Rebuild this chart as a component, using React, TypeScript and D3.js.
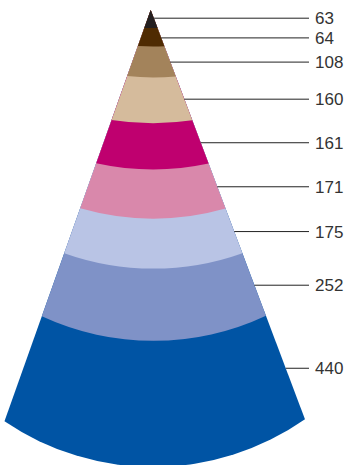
import React from "react";
import * as d3 from "d3";

// Slice values, top to bottom
const values: number[] = [63, 64, 108, 160, 161, 171, 175, 252, 440];
const labels: string[] = ["63", "64", "108", "160", "161", "171", "175", "252", "440"];
const colors: string[] = [
  "#231f20",
  "#4f2b02",
  "#a3835b",
  "#d5bb9c",
  "#bf006f",
  "#d988ab",
  "#b9c4e5",
  "#7f92c7",
  "#0054a4",
];

const W = 346;
const H = 465;

// cone geometry
const apex = { x: 150.7, y: 10 };
const baseY = 467; // lowest point of the cone's bottom arc
const slopeL = 0.3555; // horizontal run per px of depth, left side
const slopeR = 0.377; // right side
const arcR = 265; // radius of every slice boundary arc
const arcCx = 153.2; // x of the lowest point of each boundary arc
const labelLineEnd = 309;
const labelX = 315;
const minLabelGap = 19.7;

export default function App() {
  const cum: number[] = Array.from(d3.cumsum(values));
  const total = cum[cum.length - 1];
  // cumulative value -> y of the lowest point of the boundary arc
  const depth = d3.scaleLinear().domain([0, total]).range([apex.y, baseY]);

  // where the arc whose lowest point is at yc meets a cone side
  const meet = (yc: number, side: 1 | -1) => {
    const k = side === 1 ? slopeR : slopeL;
    const dx0 = apex.x - arcCx;
    const dy0 = apex.y - yc + arcR;
    const a = k * k + 1;
    const b = 2 * (dx0 * k * side + dy0);
    const c = dx0 * dx0 + dy0 * dy0 - arcR * arcR;
    const t = (-b + Math.sqrt(b * b - 4 * a * c)) / (2 * a);
    return { x: apex.x + side * k * t, y: apex.y + t };
  };

  const bounds = cum.map((v) => {
    const yc = depth(v);
    return { right: meet(yc, 1), left: meet(yc, -1) };
  });

  // each slice is drawn as the cone from the apex down to its lower arc,
  // largest first so the smaller ones sit on top
  const shapes = values.map((_, i) => {
    const p = d3.path();
    const { left, right } = bounds[i];
    p.moveTo(apex.x, apex.y);
    p.lineTo(right.x, right.y);
    const ctr = { x: arcCx, y: depth(cum[i]) - arcR };
    const a0 = Math.atan2(right.y - ctr.y, right.x - ctr.x);
    const a1 = Math.atan2(left.y - ctr.y, left.x - ctr.x);
    p.arc(ctr.x, ctr.y, arcR, a0, a1, false);
    p.closePath();
    return { d: p.toString(), color: colors[i] };
  });

  // label anchor: middle of the slice along its right edge
  const labelY = values.map((_, i) => {
    const top = i === 0 ? apex.y : bounds[i - 1].right.y;
    return (top + bounds[i].right.y) / 2 + 0.8;
  });
  for (let i = labelY.length - 2; i >= 0; i--) {
    labelY[i] = Math.min(labelY[i], labelY[i + 1] - minLabelGap);
  }

  return (
    <svg
      width={W}
      height={H}
      style={{ position: "absolute", left: 0, top: 0, background: "#fff" }}
    >
      <g>
        {shapes
          .map((s, i) => <path key={i} d={s.d} fill={s.color} />)
          .reverse()}
      </g>
      <g>
        {labelY.map((y, i) => {
          const x0 = apex.x + slopeR * (y - apex.y);
          return (
            <g key={i}>
              <line x1={x0} x2={labelLineEnd} y1={y} y2={y} stroke="#222" strokeWidth={1} />
              <text
                x={labelX}
                y={y}
                dy="0.36em"
                fontFamily="Liberation Sans, Arial, sans-serif"
                fontSize={17}
                fill="#333"
              >
                {labels[i]}
              </text>
            </g>
          );
        })}
      </g>
    </svg>
  );
}
